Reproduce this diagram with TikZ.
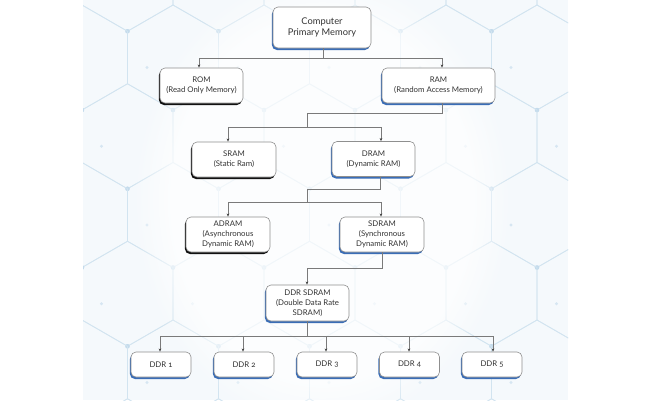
\documentclass[tikz,border=0pt]{standalone}
\usepackage{fontspec}
\setmainfont{Lato}[Numbers=OldStyle]
\usetikzlibrary{arrows.meta,shadows,fadings}
\definecolor{boxline}{HTML}{8F8F8F}
\definecolor{shblue}{HTML}{3A6DB6}
\definecolor{shblack}{HTML}{111111}
\definecolor{txt}{HTML}{333333}
\definecolor{connc}{HTML}{7A7A7A}
\definecolor{hexc}{HTML}{D2E4F0}
\definecolor{dotc}{HTML}{C4DBEC}
\definecolor{bgc}{HTML}{F5F9FC}
\begin{document}
\begin{tikzpicture}[x=1pt,y=-1pt,
  box/.style={draw=boxline, line width=0.6pt, fill=white, rounded corners=5pt,
    align=center, text=txt, font=\fontsize{7.8}{9.8}\selectfont, inner sep=0pt,
    minimum height=35pt},
  bluesh/.style={drop shadow={shadow xshift=-1.1pt,shadow yshift=-2pt,fill=shblue,opacity=1}},
  blacksh/.style={drop shadow={shadow xshift=-1.1pt,shadow yshift=-2pt,fill=shblack,opacity=1}},
  conn/.style={draw=connc, line width=0.6pt},
  arr/.style={conn, -{Stealth[length=3.2pt,width=2.6pt,color=black!75]}}]
\useasboundingbox (0,0) rectangle (650,400);
\fill[white] (0,0) rectangle (650,400);
\fill[bgc] (83,0) rectangle (568,400);
% hexagon background pattern
\begin{scope}
\clip (83,0) rectangle (568,400);
\foreach \j in {-1,...,5}{
  \foreach \k in {-1,...,6}{
    \pgfmathsetmacro{\cx}{537-\k*91+mod(abs(\j),2)*45.5}
    \pgfmathsetmacro{\cy}{57.5+\j*78.75}
    \draw[hexc, line width=0.7pt] ({\cx+45.5},{\cy-26.25}) -- (\cx,{\cy-52.5}) -- ({\cx-45.5},{\cy-26.25})
      -- ({\cx-45.5},{\cy+26.25}) -- (\cx,{\cy+52.5}) -- ({\cx+45.5},{\cy+26.25}) -- cycle;
    \fill[dotc] ({\cx-45.5},{\cy-26.25}) circle (2.2pt);
    \fill[dotc] (\cx,{\cy+52.5}) circle (2.2pt);
    \fill[dotc!70] ({\cx-26},{\cy+10}) circle (1.6pt);
  }
}
\fill[white, opacity=0.7, path fading=circle with fuzzy edge 20 percent] (322,200) ellipse (190 and 230);
\end{scope}
% nodes
\node[box, bluesh, minimum width=98pt, minimum height=41pt, font=\fontsize{9.3}{11.5}\selectfont] (comp) at (322,27.5) {Computer\\Primary Memory};
\node[box, blacksh, minimum width=83pt] (rom) at (201.5,85.5) {ROM\\(Read Only Memory)};
\node[box, bluesh, minimum width=113pt] (ram) at (438.5,85.5) {RAM\\(Random Access Memory)};
\node[box, blacksh, minimum width=84pt] (sram) at (234,159.5) {SRAM\\(Static Ram)};
\node[box, bluesh, minimum width=83pt] (dram) at (373.5,159) {DRAM\\(Dynamic RAM)};
\node[box, blacksh, minimum width=84pt] (adram) at (228,234.5) {ADRAM\\(Asynchronous\\Dynamic RAM)};
\node[box, bluesh, minimum width=84pt] (sdram) at (382,234.5) {SDRAM\\(Synchronous\\Dynamic RAM)};
\node[box, bluesh, minimum width=83pt, minimum height=36pt] (ddrs) at (307.5,303) {DDR SDRAM\\(Double Data Rate\\SDRAM)};
\node[box, bluesh, minimum width=60pt, minimum height=25pt] (d1) at (161,364.5) {DDR 1};
\node[box, bluesh, minimum width=60pt, minimum height=25pt] (d2) at (244,364.5) {DDR 2};
\node[box, bluesh, minimum width=60pt, minimum height=25pt] (d3) at (327,364.5) {DDR 3};
\node[box, bluesh, minimum width=60pt, minimum height=25pt] (d4) at (409.5,364.5) {DDR 4};
\node[box, bluesh, minimum width=60pt, minimum height=25pt] (d5) at (492,364.5) {DDR 5};
% connectors
\coordinate (b1) at (323,58);
\draw[conn] ([xshift=1pt]comp.south) -- (b1);
\draw[arr] (b1) -| ([xshift=-2.5pt]rom.north);
\draw[arr] (b1) -| ([xshift=3.5pt]ram.north);
\coordinate (b2a) at (307,113);
\coordinate (b2) at (307,127);
\draw[conn] ([xshift=3.5pt]ram.south) |- (b2a) -- (b2);
\draw[arr] (b2) -| ([xshift=-6pt]sram.north);
\draw[arr] (b2) -| ([xshift=7.5pt]dram.north);
\coordinate (b3a) at (307,189);
\coordinate (b3) at (307,202);
\draw[conn] ([xshift=6.5pt]dram.south) |- (b3a) -- (b3);
\draw[arr] (b3) -| (adram.north);
\draw[arr] (b3) -| ([xshift=-1pt]sdram.north);
\coordinate (b4) at (307,268);
\draw[conn] (sdram.south) |- (b4);
\draw[arr] (b4) -- ([xshift=-0.5pt]ddrs.north);
\coordinate (b5) at (307,336);
\draw[conn] ([xshift=-0.5pt]ddrs.south) -- (b5);
\draw[arr] (b5) -| ([xshift=-1pt]d1.north);
\draw[arr] (b5) -| ([xshift=-1pt]d2.north);
\draw[arr] (b5) -| ([xshift=-1pt]d3.north);
\draw[arr] (b5) -| ([xshift=-0.5pt]d4.north);
\draw[arr] (b5) -| ([xshift=1pt]d5.north);
\end{tikzpicture}
\end{document}
